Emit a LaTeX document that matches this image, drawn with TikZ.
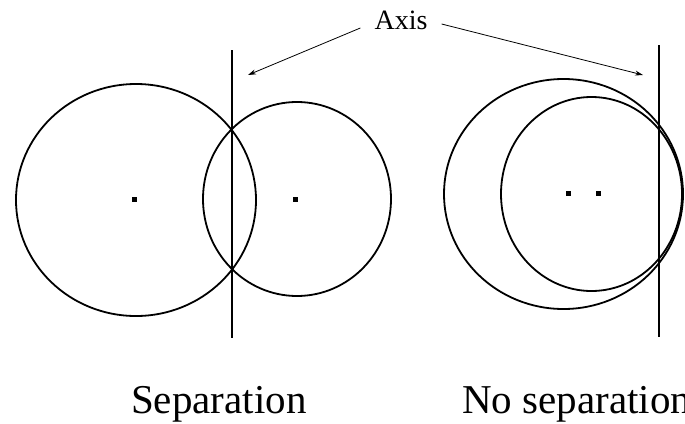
\documentclass[tikz,border=0pt]{standalone}
\usepackage{fontspec}
\setmainfont{Liberation Serif}
\usetikzlibrary{arrows.meta,shapes.geometric}

\begin{document}
\begin{tikzpicture}[x=1pt,y=-1pt,
 ring/.style={draw,ellipse,line width=1.8pt,inner sep=0pt},
 centredot/.style={fill,rectangle,minimum size=5pt,inner sep=0pt},
 axisline/.style={line width=2.4pt},
 pointer/.style={-{Stealth[length=8pt,width=5pt]},line width=0.8pt},
 caption/.style={font=\fontsize{41}{41}\selectfont,anchor=base west,inner sep=0pt}]
\useasboundingbox (0,0) rectangle (685,423);
% separation case
\node[ring,minimum width=240pt,minimum height=232pt] (lbig) at (136,200) {};
\node[ring,minimum width=188pt,minimum height=194pt] (lsmall) at (297,199) {};
\node[centredot] (ldot1) at (134,199) {};
\node[centredot] (ldot2) at (295,199) {};
\coordinate (ltop) at (232,50);
\coordinate (lbot) at (232,338);
\draw[axisline] (ltop) -- (lbot);
% no separation case
\node[ring,minimum width=239pt,minimum height=230pt] (rbig) at (563.5,194) {};
\node[ring,minimum width=181pt,minimum height=194pt] (rsmall) at (591.5,194) {};
\node[centredot] (rdot1) at (568,193) {};
\node[centredot] (rdot2) at (598,193) {};
\coordinate (rtop) at (659,45);
\coordinate (rbot) at (659,337);
\draw[axisline] (rtop) -- (rbot);
% label and pointers
\node[font=\fontsize{28}{28}\selectfont,inner xsep=14pt,inner ysep=0pt] (axis) at (401,20) {Axis};
\coordinate (lhead) at (248,75);
\coordinate (rhead) at (643,75);
\draw[pointer] ([yshift=-8pt]axis.west) -- (lhead);
\draw[pointer] ([yshift=-4pt]axis.east) -- (rhead);
\node[caption] (sep) at (131,413) {Separation};
\node[caption] (nosep) at (462,413) {No separation};
\end{tikzpicture}
\end{document}
